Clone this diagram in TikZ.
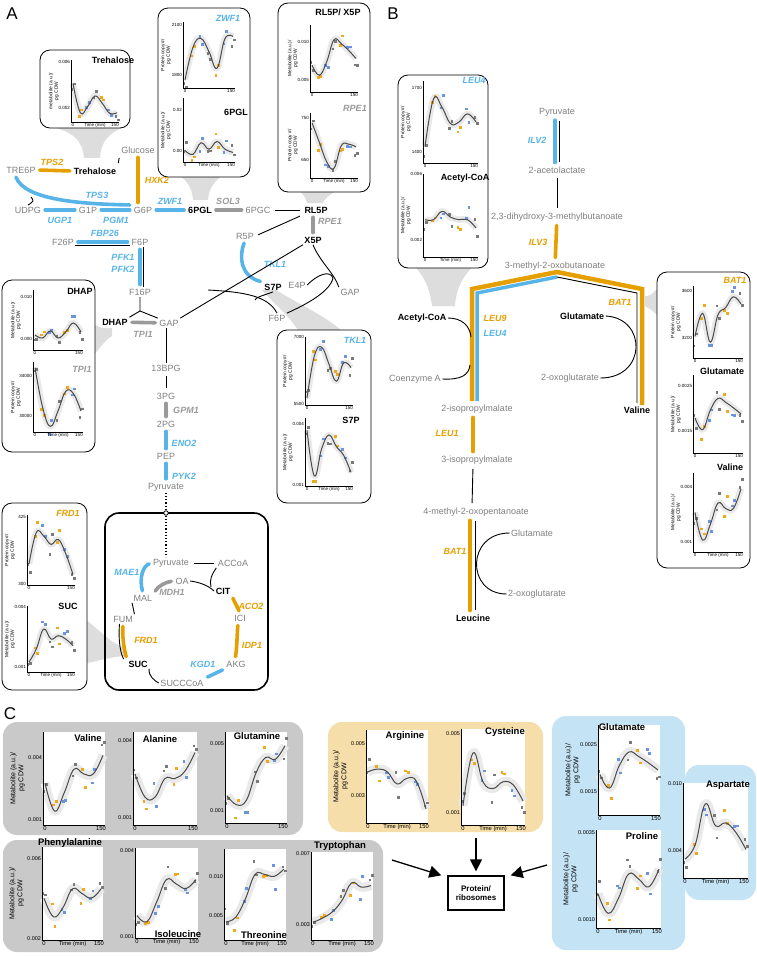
\documentclass[tikz,border=0pt]{standalone}
\usepackage{fontspec}
\setmainfont{Liberation Sans}
\usetikzlibrary{positioning,calc,arrows.meta}

\definecolor{orng}{HTML}{E69F00}
\definecolor{blu}{HTML}{56B4E9}
\definecolor{gry}{HTML}{9A9A9A}
\definecolor{txtg}{HTML}{7F7F7F}
\definecolor{doto}{HTML}{F0A81C}
\definecolor{dotb}{HTML}{6C93DE}
\definecolor{dotg}{HTML}{7A7A7A}
\definecolor{bandg}{HTML}{E9E9E9}
\definecolor{fitg}{HTML}{4A4A4A}
\definecolor{funnel}{HTML}{DDDDDD}
\definecolor{cgray}{HTML}{C9C9C9}
\definecolor{cbeige}{HTML}{F5DEA9}
\definecolor{cblue}{HTML}{C4E3F5}

% mini plot: name, x0, y0 (lower left), width, height, 7 values, y ticks, x label, y label
\newcommand{\mplot}[9]{%
  \fill[plotbg] (#2,#3) rectangle ({#2+#4},{#3-#5});
  \foreach \v [count=\i from 0] in {#6}
    \coordinate (#1-\i) at ({#2+2+\i*(#4-4)/6},{#3-\v*#5});
  \draw[band] plot[smooth, tension=0.7] coordinates {(#1-0) (#1-1) (#1-2) (#1-3) (#1-4) (#1-5) (#1-6)};
  \foreach \c [count=\i from 0] in {dotg,doto,dotb,dotg,doto,dotb,dotg} {
    \pgfmathsetmacro{\dya}{rand*0.15*#5}
    \pgfmathsetmacro{\dyb}{rand*0.15*#5}
    \node[pdot, fill=\c] (#1-a\i) at ($(#1-\i)+(-1,\dya)$) {};
    \node[pdot, fill=\c] (#1-b\i) at ($(#1-\i)+(1.5,\dyb)$) {};
  }
  \draw[fitline] plot[smooth, tension=0.7] coordinates {(#1-0) (#1-1) (#1-2) (#1-3) (#1-4) (#1-5) (#1-6)};
  \draw[axisline] (#2,{#3-#5}) -- (#2,#3) -- ({#2+#4},#3);
  \foreach \ty/\tl in {#7} \node[ytick] (#1-k\ty) at (#2,\ty) {\tl};
  \node[xtick] (#1-x0) at ({#2+2},#3) {0};
  \node[xtick] (#1-x1) at ({#2+#4-4},#3) {150};
  \node[xtick] (#1-t) at ({#2+#4/2},#3) {#8};
  \node[ylab] (#1-y) at ({#2-\yoff},{#3-#5/2}) {#9};
}

\begin{document}
\begin{tikzpicture}[x=1pt, y=-1pt,
    met/.style={text=txtg, font=\fontsize{9}{10}\selectfont, inner sep=1.5pt},
    metb/.style={font=\bfseries\fontsize{9}{10}\selectfont, inner sep=1.5pt},
    enz/.style={font=\bfseries\itshape\fontsize{9}{10}\selectfont, inner sep=1pt},
    enzo/.style={enz, text=orng},
    enzb/.style={enz, text=blu},
    enzg/.style={enz, text=gry},
    orx/.style={draw=orng, line width=3.6pt, line cap=round, shorten <=2.5pt, shorten >=2.5pt},
    blx/.style={draw=blu, line width=3.6pt, line cap=round, shorten <=2.5pt, shorten >=2.5pt},
    grx/.style={draw=gry, line width=3.6pt, line cap=round, shorten <=2.5pt, shorten >=2.5pt},
    rx/.style={draw=black, line width=0.9pt},
    rxs/.style={rx, shorten <=3pt, shorten >=3pt},
    hexo/.style={draw=orng, line width=4.5pt, shorten <=2pt},
    hexb/.style={draw=blu, line width=3.5pt, shorten <=2pt},
    pbox/.style={draw, fill=white, rounded corners=10pt, line width=0.8pt, inner sep=0pt},
    tcabox/.style={draw, line width=1.6pt, rounded corners=14pt, inner sep=0pt},
    cbox/.style={draw=none, rounded corners=14pt, inner sep=0pt},
    ptitle/.style={font=\bfseries\fontsize{9}{10}\selectfont, inner sep=1pt},
    panel/.style={font=\fontsize{17}{18}\selectfont, inner sep=0pt},
    plotbg/.style={fill=white},
    pdot/.style={rectangle, minimum size=2.7pt, inner sep=0pt, draw=none},
    fitline/.style={draw=fitg, line width=1pt},
    axisline/.style={draw=black, line width=0.5pt},
    bigarr/.style={-{Triangle[length=12pt,width=12pt]}, line width=1.3pt}
  ]
  \useasboundingbox (0,0) rectangle (757,956);
  \pgfmathsetseed{11}

  % --- Panel labels ---
  \node[panel] (lblA) at (12,14) {A};
  \node[panel] (lblB) at (393,14) {B};
  \node[panel] (lblC) at (10,714) {C};

  % --- Grey funnels from the plots ---
  \fill[funnel] (45,125) .. controls (75,132) and (82,140) .. (84,158) -- (100,158) .. controls (101,140) and (110,132) .. (128,125) -- cycle;
  \fill[funnel] (172,170) .. controls (188,180) and (192,188) .. (193,200) -- (208,200) .. controls (209,188) and (214,180) .. (230,170) -- cycle;
  \fill[funnel] (292,185) .. controls (303,193) and (306,197) .. (307,203) -- (323,203) .. controls (325,197) and (333,192) .. (348,185) -- cycle;
  \fill[funnel] (88,322) .. controls (100,328) and (105,329) .. (112,328) -- (112,336) .. controls (105,340) and (100,348) .. (88,362) -- cycle;
  \fill[funnel] (262,290) -- (276,290) .. controls (300,305) and (330,318) .. (345,334) -- (300,334) .. controls (292,318) and (275,305) .. (262,290) -- cycle;
  \fill[funnel] (80,615) .. controls (100,630) and (112,645) .. (124,647) -- (124,656) .. controls (112,657) and (100,660) .. (80,665) -- cycle;
  \fill[funnel] (410,262) .. controls (425,275) and (430,290) .. (432,306) -- (455,306) .. controls (456,290) and (462,275) .. (478,262) -- cycle;
  \fill[funnel] (645,296) .. controls (650,296) .. (660,286) -- (660,318) .. controls (652,310) .. (645,306) -- cycle;

  % --- Plot boxes, panels A and B ---
  \node[pbox, minimum width=90pt, minimum height=78pt] (treBox) at (85,89) {};
  \node[pbox, minimum width=92pt, minimum height=169pt] (zwfBox) at (204,92.5) {};
  \node[pbox, minimum width=92pt, minimum height=189pt] (rlpBox) at (324,97.5) {};
  \node[pbox, minimum width=93pt, minimum height=172pt] (dhapBox) at (48.5,366) {};
  \node[pbox, minimum width=94pt, minimum height=173pt] (tklBox) at (324,416.5) {};
  \node[pbox, minimum width=85pt, minimum height=187pt] (frdBox) at (44.5,596.5) {};
  \node[pbox, minimum width=90pt, minimum height=193pt] (leuBox) at (443,171.5) {};
  \node[pbox, minimum width=93pt, minimum height=296pt] (batBox) at (703.5,420) {};

  \begin{scope}[
      ytick/.style={anchor=east, font=\fontsize{4.5}{5}\selectfont, inner sep=0.8pt},
      xtick/.style={anchor=north, font=\fontsize{4.5}{5}\selectfont, inner sep=1pt},
      ylab/.style={rotate=90, anchor=south, align=center, font=\fontsize{4.8}{5.5}\selectfont, inner sep=0pt},
      band/.style={draw=bandg, line width=6.5pt, line cap=butt, line join=round}
    ]
    \def\yoff{12}
    \mplot{tre}{71}{122}{48}{62}{0.62,0.15,0.25,0.42,0.3,0.14,0.15}{62/0.006,108/0.002}{Time (min)}{metabolite (a.u.)/\\pg CDW}
    \mplot{zwf}{183}{88}{52}{66}{0.12,0.62,0.75,0.55,0.3,0.75,0.78}{25/2100,75/1800}{}{Protein copy \#/\\pg CDW}
    \mplot{pgl}{183}{162}{52}{64}{0.18,0.12,0.3,0.2,0.32,0.2,0.15}{110/0.02,151/0.00}{Time (min)}{Metabolite (a.u.)/\\pg CDW}
    \mplot{rlp}{310}{92}{48}{67}{0.4,0.25,0.45,0.78,0.72,0.62,0.5}{42/0.010,80/0.005}{}{Metabolite (a.u.)/\\pg CDW}
    \mplot{rpe}{310}{178}{48}{65}{0.85,0.55,0.25,0.15,0.5,0.52,0.48}{118/750,160/650}{Time (min)}{Protein copy \#/\\pg CDW}
    \mplot{dhap}{33}{350}{50}{60}{0.25,0.2,0.32,0.2,0.3,0.45,0.3}{297/0.010,339/0.000}{}{Metabolite (a.u.)/\\pg CDW}
    \mplot{tpi}{33}{432}{50}{70}{0.92,0.35,0.08,0.3,0.58,0.55,0.3}{376/34000,416/30000}{Time (min)}{Protein copy \#/\\pg CDW}
    \mplot{tkl}{305}{405}{48}{68}{0.1,0.72,0.85,0.6,0.35,0.62,0.55}{337/7000,404/5500}{}{Protein copy \#/\\pg CDW}
    \mplot{sph}{305}{486}{48}{68}{0.82,0.15,0.55,0.75,0.58,0.45,0.2}{424/0.004,485/0.001}{Time (min)}{Metabolite (a.u.)/\\pg CDW}
    \mplot{frd}{27}{585}{48}{70}{0.3,0.75,0.7,0.58,0.65,0.45,0.15}{517/425,584/300}{}{Protein copy \#/\\pg CDW}
    \mplot{suc}{27}{672}{48}{66}{0.15,0.35,0.65,0.5,0.55,0.5,0.4}{607/0.004,667/0.001}{Time (min)}{Metabolite (a.u.)/\\pg CDW}
    \mplot{leu}{423}{163}{55}{82}{0.2,0.78,0.68,0.48,0.5,0.6,0.5}{88/1700,152/1400}{}{Protein copy \#/\\pg CDW}
    \mplot{aco}{423}{257}{55}{83}{0.45,0.45,0.55,0.48,0.45,0.45,0.35}{174/0.006,240/0.002}{Time (min)}{Metabolite (a.u.)/\\pg CDW}
    \mplot{bat}{693}{358}{50}{72}{0.3,0.62,0.22,0.6,0.7,0.85,0.75}{291/3600,338/3200}{}{Protein copy \#/\\pg CDW}
    \mplot{glb}{693}{453}{50}{78}{0.45,0.3,0.55,0.7,0.65,0.58,0.5}{386/0.0025,431/0.0015}{}{Metabolite (a.u.)/\\pg CDW}
    \mplot{vlb}{693}{552}{50}{79}{0.5,0.15,0.35,0.62,0.55,0.55,0.8}{487/0.004,542/0.001}{Time (min)}{Metabolite (a.u.)/\\pg CDW}
  \end{scope}

  % --- Plot titles, panels A and B ---
  \node[ptitle] (tTre) at (113,60) {Trehalose};
  \node[enzb] (tZwf) at (228,18) {ZWF1};
  \node[ptitle] (tPgl) at (236,112) {6PGL};
  \node[ptitle] (tRlp) at (338,12) {RL5P/ X5P};
  \node[enzg] (tRpe) at (355,108) {RPE1};
  \node[ptitle] (tDhap) at (80,291) {DHAP};
  \node[enzg] (tTpi) at (82,369) {TPI1};
  \node[enzb] (tTkl) at (355,340) {TKL1};
  \node[ptitle] (tS7p) at (351,420) {S7P};
  \node[enzo] (tFrd) at (68,513) {FRD1};
  \node[ptitle] (tSuc) at (68,606) {SUC};
  \node[enzb] (tLeu) at (474,80) {LEU4};
  \node[ptitle] (tAco) at (465,178) {Acetyl-CoA};
  \node[enzo] (tBat) at (735,280) {BAT1};
  \node[ptitle] (tGlu) at (722,371) {Glutamate};
  \node[ptitle] (tVal) at (730,467) {Valine};

  % --- Panel A: upper glycolysis and trehalose ---
  \node[met] (Glc) at (138,150) {Glucose};
  \node[metb] (Tre) at (95,171) {Trehalose};
  \node[met] (T6P) at (21,170) {TRE6P};
  \node[met] (UDPG) at (28,210) {UDPG};
  \node[met] (G1P) at (88,210) {G1P};
  \node[met] (G6P) at (143,210) {G6P};
  \node[metb] (PGL) at (200,210) {6PGL};
  \node[met] (PGC) at (258,210) {6PGC};
  \node[metb] (RL5P) at (316,210) {RL5P};
  \node[metb] (X5P) at (313,240) {X5P};
  \node[met] (R5P) at (245,236) {R5P};
  \node[metb] (S7P) at (273,287) {S7P};
  \node[met] (E4P) at (297,285) {E4P};
  \node[met] (GAPp) at (350,292) {GAP};
  \node[met] (F6Pp) at (277,318) {F6P};
  \node[met] (F26P) at (63,242) {F26P};
  \node[met] (F6P) at (140,242) {F6P};
  \node[met] (F16P) at (140,292) {F16P};
  \node[metb] (DHAP) at (115,322) {DHAP};
  \node[met] (GAP) at (169,323) {GAP};
  \node[met] (BPG) at (166,368) {13BPG};
  \node[met] (PG3) at (166,396) {3PG};
  \node[met] (PG2) at (166,424) {2PG};
  \node[met] (PEP) at (166,456) {PEP};
  \node[met] (Pyr) at (166,487) {Pyruvate};

  \node[enzo] (eTPS2) at (52,162) {TPS2};
  \node[enzo] (eHXK2) at (157,180) {HXK2};
  \node[enzb] (eTPS3) at (97,195) {TPS3};
  \node[enzb] (eUGP1) at (60,220) {UGP1};
  \node[enzb] (ePGM1) at (116,220) {PGM1};
  \node[enzb] (eZWF1) at (170,201) {ZWF1};
  \node[enzg] (eSOL3) at (228,201) {SOL3};
  \node[enzg] (eRPE1) at (330,221) {RPE1};
  \node[enzb] (eTKL1) at (275,264) {TKL1};
  \node[enzb] (eFBP) at (105,233) {FBP26};
  \node[enzb] (ePFK1) at (123,257) {PFK1};
  \node[enzb] (ePFK2) at (123,269) {PFK2};
  \node[enzg] (eTPI1) at (143,334) {TPI1};
  \node[enzg] (eGPM1) at (186,410) {GPM1};
  \node[enzb] (eENO2) at (184,443) {ENO2};
  \node[enzb] (ePYK2) at (184,476) {PYK2};

  \coordinate (udpgJ) at (31,197);
  \coordinate (s7in) at (208,290);
  \coordinate (s7J) at (255,300);
  \coordinate (e4J) at (333,278);
  \coordinate (yJ) at (140,311);

  \draw[orx] (T6P.east) -- (Tre.west);
  \draw[rxs] (Tre.north east) -- (Glc.south west);
  \draw[orx] (Glc.south) -- (Glc.south |- G6P.north);
  \draw[blx] ([xshift=-6pt]T6P.south) .. controls (25,200) and (80,204) .. ([yshift=5pt]G6P.west);
  \draw[rx] (udpgJ) .. controls (34,201) .. (UDPG.north);
  \draw[blx] (UDPG) -- (G1P);
  \draw[blx] (G1P) -- (G6P);
  \draw[blx] (G6P) -- (PGL);
  \draw[grx] (PGL) -- (PGC);
  \draw[rxs] (PGC) -- (RL5P);
  \draw[grx] (X5P.north |- RL5P.south) -- (X5P.north);
  \draw[rxs] (RL5P.south west) -- (R5P.east);
  \draw[blx] (R5P.south) .. controls (239,256) and (240,276) .. (S7P.north west);
  \draw[rx] (X5P.south west) -- (GAP.north east);
  \draw[rx] (X5P.south) .. controls (320,262) and (335,274) .. (GAPp.north west);
  \draw[rx] (E4P.east) .. controls (318,274) and (330,270) .. (e4J) .. controls (330,292) and (305,305) .. (F6Pp.north east);
  \draw[rx] (s7in) .. controls (245,292) and (268,296) .. (F6Pp.north);
  \draw[rx] (S7P.south) .. controls (262,296) and (256,297) .. (s7J);

  % --- Panel A: lower glycolysis ---
  \draw[blx] (F26P) -- (F6P);
  \draw[rx] ([yshift=-3.5pt]F26P.east) -- ([yshift=-3.5pt]F6P.west);
  \draw[blx] (F6P) -- (F16P);
  \draw[rx] ([xshift=3.5pt]F6P.south) -- ([xshift=3.5pt]F16P.north);
  \draw[rx] (F16P.south) -- (yJ) -- (DHAP.north east);
  \draw[rx] (yJ) -- (GAP.north west);
  \draw[grx] (DHAP) -- (GAP);
  \draw[rx] (BPG.north |- GAP.south) -- (BPG.north);
  \draw[rxs] (BPG) -- (PG3);
  \draw[grx] (PG3) -- (PG2);
  \draw[blx] (PG2) -- (PEP);
  \draw[blx] (PEP) -- (Pyr);

  % --- Panel A: TCA cycle ---
  \node[tcabox, minimum width=163pt, minimum height=177pt] (tca) at (186.5,601.5) {};
  \node[circle, draw, fill=white, line width=0.8pt, inner sep=1.6pt] (tcaIn) at (166,513) {};
  \node[met] (PyrM) at (171,563) {Pyruvate};
  \node[met] (ACCoA) at (233,563) {ACCoA};
  \node[met] (OA) at (182,581) {OA};
  \node[met] (MAL) at (143,598) {MAL};
  \node[metb] (CIT) at (223,591) {CIT};
  \node[met] (ICI) at (240,618) {ICI};
  \node[met] (AKG) at (236,664) {AKG};
  \node[met] (SCoA) at (182,683) {SUCCCoA};
  \node[metb] (SUC) at (138,664) {SUC};
  \node[met] (FUM) at (123,619) {FUM};

  \node[enzb] (eMAE1) at (127,572) {MAE1};
  \node[enzg] (eMDH1) at (172,592) {MDH1};
  \node[enzo] (eACO2) at (251,606) {ACO2};
  \node[enzo] (eIDP1) at (252,645) {IDP1};
  \node[enzb] (eKGD1) at (203,664) {KGD1};
  \node[enzo] (eFRD1) at (146,640) {FRD1};

  \coordinate (citJ) at (211,587);
  \draw[dotted, line width=1.2pt] (Pyr) -- (tcaIn);
  \draw[dotted, line width=1.2pt] (tcaIn) -- (tcaIn |- PyrM.north);
  \draw[rx, shorten <=4pt, shorten >=2pt] (PyrM.east) -- (ACCoA.west);
  \draw[rx] (ACCoA.south west) .. controls (212,574) and (209,580) .. (citJ);
  \draw[rx] (OA.east) .. controls (198,582) and (208,585) .. (CIT.west);
  \draw[orx] (CIT.south east) .. controls (234,601) and (237,606) .. (ICI.north);
  \draw[orx] ([xshift=-2pt]ICI.south) .. controls (237,636) and (237,648) .. ([xshift=-1pt]AKG.north);
  \draw[blx] (AKG.south west) -- (SCoA.north east);
  \draw[rx] (SCoA.west) .. controls (155,681) and (148,676) .. (SUC.south east);
  \draw[orx] (FUM.south) .. controls (122,640) and (125,652) .. (SUC.north west);
  \draw[rx] ([xshift=-3.5pt]FUM.south) .. controls (118,642) and (121,655) .. ([xshift=-3pt]SUC.north west);
  \draw[rx] (FUM.north east) -- (MAL.south west);
  \draw[grx] (MAL.north east) .. controls (158,586) and (166,582) .. (OA.west);
  \draw[blx] (MAL.north) .. controls (139,578) and (143,566) .. (PyrM.west);

  % --- Panel B: branched-chain amino acids ---
  \node[met] (PyrB) at (557,112) {Pyruvate};
  \node[met] (Alac) at (557,170) {2-acetolactate};
  \node[met] (DHMB) at (557,217) {2,3-dihydroxy-3-methylbutanoate};
  \node[met] (KIV) at (555,266) {3-methyl-2-oxobutanoate};
  \node[metb] (AcCoA) at (422,318) {Acetyl-CoA};
  \node[met] (CoA) at (415,379) {Coenzyme A};
  \node[metb] (GluB) at (582,316) {Glutamate};
  \node[met] (OGB) at (570,378) {2-oxoglutarate};
  \node[metb] (Val) at (637,410) {Valine};
  \node[met] (IPM2) at (477,409) {2-isopropylmalate};
  \node[met] (IPM3) at (477,460) {3-isopropylmalate};
  \node[met] (KIC) at (476,512) {4-methyl-2-oxopentanoate};
  \node[met] (GluL) at (532,533) {Glutamate};
  \node[met] (OGL) at (537,594) {2-oxoglutarate};
  \node[metb] (Leu) at (473,618) {Leucine};

  \node[enzb] (eILV2) at (537,140) {ILV2};
  \node[enzo] (eILV3) at (538,242) {ILV3};
  \node[enzo] (eLEU9) at (495,318) {LEU9};
  \node[enzb] (eLEU4) at (495,333) {LEU4};
  \node[enzo] (eBAT1a) at (620,302) {BAT1};
  \node[enzo] (eLEU1) at (447,433) {LEU1};
  \node[enzo] (eBAT1b) at (455,551) {BAT1};

  \coordinate (hxT) at (557,272);
  \coordinate (hxL) at (472,289);
  \coordinate (hxR) at (642,289);
  \coordinate (hxTi) at (557,277);
  \coordinate (hxLi) at (477,293);
  \coordinate (hxRi) at (637,293);
  \coordinate (acJ) at (471,337);
  \coordinate (coaJ) at (470,365);

  \draw[blx] ([xshift=-2pt]PyrB.south) -- ([xshift=-2pt]PyrB.south |- Alac.north);
  \draw[rxs] ([xshift=2pt]PyrB.south) -- ([xshift=2pt]PyrB.south |- Alac.north);
  \draw[rxs] (Alac) -- (DHMB);
  \draw[orx] (DHMB) -- (KIV);
  \draw[hexb, shorten >=0pt] (hxLi |- IPM2.north) -- (hxLi) -- (hxTi);
  \draw[hexo] (hxL |- IPM2.north) -- (hxL) -- (hxT) -- (hxR) -- (hxR |- Val.north);
  \draw[rx, shorten >=2pt] (hxTi) -- (hxRi) -- (hxRi |- Val.north);
  \draw[rx] (AcCoA.east) .. controls (462,318) and (470,326) .. (acJ);
  \draw[rx] (CoA.east) .. controls (461,380) and (469,375) .. (coaJ);
  \draw[rx] (GluB.east) .. controls (647,318) and (647,378) .. (OGB.east);
  \draw[orx] ([xshift=-4pt]IPM2.south) -- ([xshift=-4pt]IPM3.north);
  \draw[rxs] ([xshift=-4pt]IPM3.south) -- ([xshift=-4pt]KIC.north);
  \draw[orx] ([xshift=-6pt]KIC.south) -- ([xshift=-3pt]Leu.north);
  \draw[rxs] ([xshift=-1pt]KIC.south) -- ([xshift=2pt]Leu.north);
  \draw[rx] (GluL.west) .. controls (466,533) and (466,594) .. (OGL.west);

  % --- Panel C: amino acid pools ---
  \node[cbox, fill=cgray, minimum width=300pt, minimum height=113pt] (cg1) at (153,778.5) {};
  \node[cbox, fill=cgray, minimum width=380pt, minimum height=112pt] (cg2) at (193,896) {};
  \node[cbox, fill=cbeige, minimum width=215pt, minimum height=110pt] (cbe) at (435.5,777) {};
  \node[cbox, fill=cblue, minimum width=133pt, minimum height=234pt] (cb1) at (618.5,833) {};
  \node[cbox, fill=cblue, minimum width=71pt, minimum height=135pt] (cb2) at (720.5,832.5) {};

  \begin{scope}[
      ytick/.style={anchor=east, font=\fontsize{5.5}{6}\selectfont, inner sep=0.8pt},
      xtick/.style={anchor=north, font=\fontsize{5.8}{6.5}\selectfont, inner sep=1.2pt},
      ylab/.style={rotate=90, anchor=south, align=center, font=\fontsize{7}{8}\selectfont, inner sep=0pt},
      band/.style={draw=bandg, line width=9pt, line cap=butt, line join=round}
    ]
    \def\yoff{18}
    \mplot{cval}{43}{825}{62}{93}{0.45,0.15,0.35,0.6,0.55,0.55,0.75}{758/0.004,820/0.001}{}{Metabolite (a.u.)/\\pg CDW}
    \mplot{cala}{133}{825}{64}{93}{0.55,0.3,0.3,0.5,0.5,0.58,0.78}{741/0.004,818/0.001}{}{}
    \mplot{cgln}{225}{823}{62}{91}{0.3,0.2,0.25,0.55,0.72,0.7,0.85}{744/0.005,811/0.001}{}{}
    \mplot{carg}{366}{823}{62}{93}{0.55,0.58,0.55,0.42,0.48,0.45,0.15}{744/0.005,796/0.003}{Time (min)}{Metabolite (a.u.)/\\pg CDW}
    \mplot{ccys}{461}{825}{64}{96}{0.2,0.75,0.45,0.38,0.45,0.42,0.25}{734/0.005,813/0.001}{Time (min)}{}
    \mplot{cglu}{598}{815}{62}{90}{0.45,0.3,0.55,0.7,0.65,0.58,0.5}{745/0.0025,792/0.0015}{}{Metabolite (a.u.)/\\pg CDW}
    \mplot{cpro}{596}{928}{65}{98}{0.35,0.15,0.3,0.55,0.5,0.42,0.6}{833/0.0035,920/0.0010}{Time (min)}{Metabolite (a.u.)/\\pg CDW}
    \mplot{casp}{683}{878}{65}{95}{0.2,0.35,0.78,0.55,0.58,0.48,0.3}{784/0.010,851/0.004}{Time (min)}{}
    \mplot{cphe}{42}{940}{61}{93}{0.45,0.25,0.35,0.55,0.5,0.45,0.55}{859/0.006,939/0.002}{Time (min)}{Metabolite (a.u.)/\\pg CDW}
    \mplot{cile}{135}{938}{63}{90}{0.25,0.18,0.4,0.65,0.6,0.55,0.65}{851/0.004,937/0.001}{Time (min)}{}
    \mplot{cthr}{224}{940}{62}{91}{0.2,0.25,0.45,0.72,0.72,0.7,0.78}{877/0.010,916/0.005}{Time (min)}{}
    \mplot{ctrp}{311}{940}{62}{88}{0.2,0.25,0.32,0.45,0.65,0.6,0.62}{854/0.007,925/0.003}{Time (min)}{}
  \end{scope}

  \node[ptitle, font=\bfseries\fontsize{9.5}{10}\selectfont] (tcVal) at (88,738) {Valine};
  \node[ptitle, font=\bfseries\fontsize{9.5}{10}\selectfont] (tcAla) at (160,739) {Alanine};
  \node[ptitle, font=\bfseries\fontsize{9.5}{10}\selectfont] (tcGln) at (257,736) {Glutamine};
  \node[ptitle, font=\bfseries\fontsize{9.5}{10}\selectfont] (tcArg) at (405,736) {Arginine};
  \node[ptitle, font=\bfseries\fontsize{9.5}{10}\selectfont] (tcCys) at (505,732) {Cysteine};
  \node[ptitle, font=\bfseries\fontsize{9.5}{10}\selectfont] (tcGlu) at (622,727) {Glutamate};
  \node[ptitle, font=\bfseries\fontsize{9.5}{10}\selectfont] (tcPro) at (642,836) {Proline};
  \node[ptitle, font=\bfseries\fontsize{9.5}{10}\selectfont] (tcAsp) at (728,785) {Aspartate};
  \node[ptitle, font=\bfseries\fontsize{9.5}{10}\selectfont] (tcPhe) at (70,843) {Phenylalanine};
  \node[ptitle, font=\bfseries\fontsize{9.5}{10}\selectfont] (tcIle) at (178,934) {Isoleucine};
  \node[ptitle, font=\bfseries\fontsize{9.5}{10}\selectfont] (tcThr) at (264,935) {Threonine};
  \node[ptitle, font=\bfseries\fontsize{9.5}{10}\selectfont] (tcTrp) at (340,846) {Tryptophan};

  % --- Protein sink ---
  \node[draw, line width=1.3pt, fill=white, align=center, font=\bfseries\fontsize{8}{9.5}\selectfont, minimum width=56pt, minimum height=34pt, inner sep=1pt] (prot) at (476,893) {Protein/\\ribosomes};
  \coordinate (arL) at (392,860);
  \coordinate (arT) at (476,838);
  \coordinate (arR) at (547,865);
  \draw[bigarr] (arL) -- ([xshift=-6pt]prot.north west);
  \draw[bigarr] (arT) -- ([yshift=4pt]prot.north);
  \draw[bigarr] (arR) -- ([xshift=6pt]prot.north east);

\end{tikzpicture}
\end{document}
